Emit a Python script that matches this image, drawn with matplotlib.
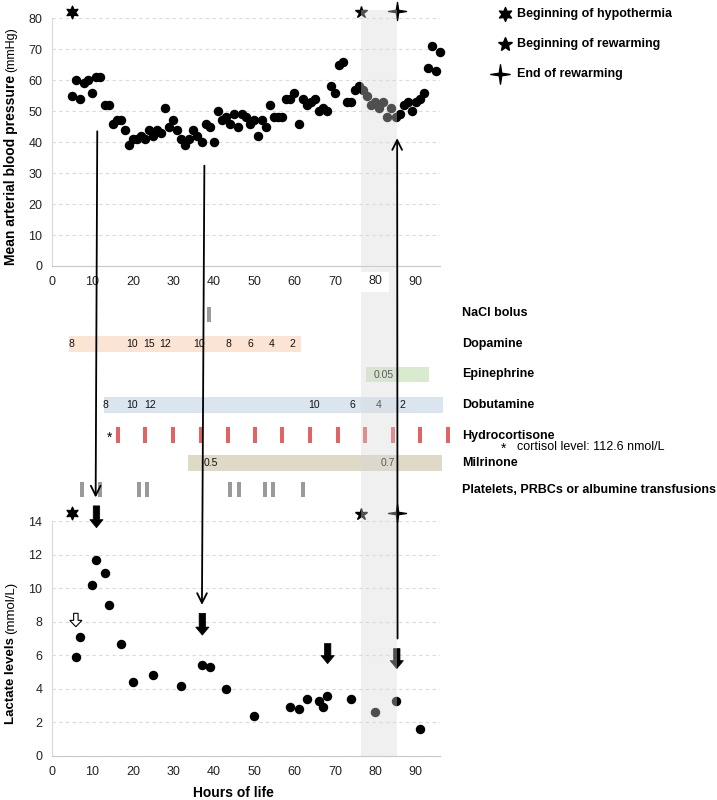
import numpy as np
import matplotlib
matplotlib.use("Agg")
import matplotlib.pyplot as plt
from matplotlib.patches import Rectangle, FancyArrow, ConnectionPatch
from matplotlib.lines import Line2D
from matplotlib.path import Path
from matplotlib.transforms import blended_transform_factory

plt.rcParams["font.family"] = ["Liberation Sans", "DejaVu Sans"]

# ---- mean arterial blood pressure (hourly) ----
map_hours = [5, 6, 7, 8, 9, 10, 11, 12, 13, 14, 15, 16, 17, 18, 19, 20, 21, 22, 23, 24,
             25, 26, 27, 28, 29, 30, 31, 32, 33, 34, 35, 36, 37, 38, 39, 40, 41, 42, 43, 44,
             45, 46, 47, 48, 49, 50, 51, 52, 53, 54, 55, 56, 57, 58, 59, 60, 61, 62, 63, 64,
             65, 66, 67, 68, 69, 70, 71, 72, 73, 74, 75, 76, 77, 78, 79, 80, 81, 82, 83, 84,
             85, 86, 87, 88, 89, 90, 91, 92, 93, 94, 95, 96]
map_values = [55, 60, 54, 59, 60, 56, 61, 61, 52, 52, 46, 47, 47, 44, 39, 41, 41, 42, 41, 44,
              42, 44, 43, 51, 45, 47, 44, 41, 39, 41, 44, 42, 40, 46, 45, 40, 50, 47, 48, 46,
              49, 45, 49, 48, 46, 47, 42, 47, 45, 52, 48, 48, 48, 54, 54, 56, 46, 54, 52, 53,
              54, 50, 51, 50, 58, 56, 65, 66, 53, 53, 57, 58, 57, 55, 52, 53, 51, 53, 48, 51,
              48, 49, 52, 53, 50, 53, 54, 56, 64, 71, 63, 69]

# ---- lactate ----
lac_hours = [6, 7, 10, 11, 13, 14, 17, 20, 25, 32, 37, 39, 43, 50, 59, 61, 63, 66, 67, 68,
             74, 80, 85, 91]
lac_values = [5.9, 7.1, 10.2, 11.7, 10.9, 9.0, 6.7, 4.4, 4.8, 4.2, 5.4, 5.3, 4.0, 2.4, 2.9,
              2.8, 3.4, 3.25, 2.9, 3.6, 3.4, 2.6, 3.3, 1.6]

# ---- events ----
hypothermia_start = 5
rewarming_start = 76.5
rewarming_end = 85.3

# ---- treatments ----
nacl_hours = [38.8]
dopamine_span = (4.2, 61.7)
dopamine_label_hours = [4.9, 19.8, 24.0, 28.1, 36.3, 43.6, 49.0, 54.3, 59.4]
dopamine_doses = ["8", "10", "15", "12", "10", "8", "6", "4", "2"]
epinephrine_span = (77.7, 93.2)
epinephrine_label_hours = [82.0]
epinephrine_doses = ["0.05"]
dobutamine_span = (12.8, 96.8)
dobutamine_label_hours = [13.3, 19.9, 24.2, 64.9, 74.4, 80.8, 86.7]
dobutamine_doses = ["8", "10", "12", "10", "6", "4", "2"]
hydrocortisone_hours = [16.3, 23.0, 29.9, 36.8, 43.5, 50.3, 57.0, 63.9, 70.7, 77.5, 84.3,
                        91.1, 97.9]
cortisol_hour = 14.2
milrinone_span = (33.7, 96.5)
milrinone_label_hours = [39.4, 83.0]
milrinone_doses = ["0.5", "0.7"]
transfusion_hours = [7.5, 11.9, 21.5, 23.5, 44.1, 46.2, 52.8, 54.7, 62.2]

# ---- annotations ----
# long arrows: (hour, MAP) in top panel <-> (hour, lactate) in bottom panel
down_links = [((11.2, 43.5), (10.8, 15.4)), ((37.7, 32.4), (37.1, 9.0))]
up_link = ((85.5, 7.0), (85.4, 41.3))
block_hours = [11.0, 37.2, 68.2, 85.3]
block_top = [14.9, 8.5, 6.7, 6.4]
block_bottom = [13.6, 7.2, 5.5, 5.2]
open_arrow = (5.9, 8.5, 7.7)

W, H = 717, 800


def fx(px):
    return px / W


def fy(py):
    return 1 - py / H


hexstar = Path.unit_regular_star(6, 0.5)
sparkle = Path([(0, 1), (0.13, 0.13), (1, 0), (0.13, -0.13), (0, -1), (-0.13, -0.13),
                (-1, 0), (-0.13, 0.13), (0, 1)],
               [Path.MOVETO] + [Path.LINETO] * 7 + [Path.CLOSEPOLY])

fig = plt.figure(figsize=(W / 100, H / 100), dpi=100)
ax_top = fig.add_axes([fx(52), fy(266), 388 / W, 247.7 / H])
ax_mid = fig.add_axes([fx(52), fy(500), 388 / W, 200 / H])
ax_bot = fig.add_axes([fx(52), fy(756), 388 / W, 235 / H])


def style(ax, ymax, step):
    ax.set_xlim(0, 96)
    ax.set_ylim(0, ymax)
    ax.set_xticks(range(0, 91, 10))
    ax.set_yticks(range(0, ymax + 1, step))
    ax.tick_params(length=0, labelsize=9, pad=7, colors="#222222")
    for s in ["top", "right"]:
        ax.spines[s].set_visible(False)
    ax.spines["left"].set_color("#d9d9d9")
    ax.spines["bottom"].set_color("#c8c8c8")
    ax.grid(axis="y", color="#dadada", ls=(0, (3, 3)), lw=0.8)
    ax.set_axisbelow(True)
    ax.patch.set_alpha(0)


style(ax_top, 80, 10)
style(ax_bot, 14, 2)

# top panel
ax_top.plot(map_hours, map_values, "o", color="black", ms=5.8, clip_on=False, zorder=3)
ax_top.plot(hypothermia_start, 82, marker=hexstar, ms=9, color="black", ls="none", clip_on=False)
ax_top.plot(rewarming_start, 82, marker="*", ms=9, color="black", ls="none", clip_on=False)
ax_top.plot(rewarming_end, 82.3, marker=sparkle, ms=13, color="black", ls="none", clip_on=False)

# bottom panel
ax_bot.plot(lac_hours, lac_values, "o", color="black", ms=5.8, clip_on=False, zorder=3)
ax_bot.plot(hypothermia_start, 14.45, marker=hexstar, ms=9, color="black", ls="none", clip_on=False)
ax_bot.plot(rewarming_start, 14.4, marker="*", ms=9, color="black", ls="none", clip_on=False)
ax_bot.plot(rewarming_end, 14.5, marker=sparkle, ms=13, color="black", ls="none", clip_on=False)

for h, y0, y1 in zip(block_hours, block_top, block_bottom):
    ax_bot.add_patch(FancyArrow(h, y0, 0, y1 - y0, width=1.6, head_width=3.3, head_length=0.48,
                                length_includes_head=True, fc="black", ec="black", lw=0.5,
                                clip_on=False, zorder=4))
h, y0, y1 = open_arrow
ax_bot.add_patch(FancyArrow(h, y0, 0, y1 - y0, width=1.1, head_width=3.0, head_length=0.38,
                            length_includes_head=True, fc="white", ec="black", lw=0.8,
                            clip_on=False, zorder=4))

# middle panel: treatments (y in pixel rows)
ax_mid.set_xlim(0, 96)
ax_mid.set_ylim(500, 300)
ax_mid.axis("off")
rows = {"NaCl bolus": 314.5, "Dopamine": 344, "Epinephrine": 374.7, "Dobutamine": 405,
        "Hydrocortisone": 435, "Milrinone": 463,
        "Platelets, PRBCs or albumine transfusions": 489.5}
label_y = {"NaCl bolus": 313.5, "Dopamine": 344, "Epinephrine": 374.5, "Dobutamine": 405.5,
           "Hydrocortisone": 436, "Milrinone": 463.5,
           "Platelets, PRBCs or albumine transfusions": 490}


def span_bar(span, row, color, hours, doses):
    ax_mid.barh(rows[row], span[1] - span[0], left=span[0], height=15.5, color=color,
                clip_on=False)
    for hh, d in zip(hours, doses):
        ax_mid.text(hh, rows[row], d, ha="center", va="center", fontsize=7.5, color="#111111")


def tick_bars(hours, row, color, height):
    ax_mid.bar(hours, height, width=1.0, bottom=rows[row] - height / 2, color=color,
               clip_on=False)


tick_bars(nacl_hours, "NaCl bolus", "#9a9a9a", 15)
span_bar(dopamine_span, "Dopamine", "#fce4d4", dopamine_label_hours, dopamine_doses)
span_bar(epinephrine_span, "Epinephrine", "#d8ebcf", epinephrine_label_hours, epinephrine_doses)
span_bar(dobutamine_span, "Dobutamine", "#dbe5f0", dobutamine_label_hours, dobutamine_doses)
tick_bars(hydrocortisone_hours, "Hydrocortisone", "#e06464", 16)
ax_mid.text(cortisol_hour, rows["Hydrocortisone"] + 3, "*", ha="center", va="center", fontsize=10)
span_bar(milrinone_span, "Milrinone", "#dfdac6", milrinone_label_hours, milrinone_doses)
tick_bars(transfusion_hours, "Platelets, PRBCs or albumine transfusions", "#9a9a9a", 14.5)

for name, yy in label_y.items():
    fig.text(fx(461.7), fy(yy), name, ha="left", va="center", fontsize=9, fontweight="bold")
fig.text(fx(503.5), fy(449), "*", ha="center", va="center", fontsize=10)
fig.text(fx(516.7), fy(446.7), "cortisol level: 112.6 nmol/L", ha="left", va="center", fontsize=9)

# shaded rewarming window spanning all panels
blend = blended_transform_factory(ax_top.transData, fig.transFigure)
fig.add_artist(Rectangle((rewarming_start, fy(756)), rewarming_end - rewarming_start,
                         (756 - 10) / H, transform=blend, fc="#d8d8d8", ec="none",
                         alpha=0.37, zorder=1))
fig.add_artist(Rectangle((rewarming_start, fy(291.7)), 83.3 - rewarming_start, 20 / H,
                         transform=blend, fc="white", ec="none", zorder=1.5))
fig.text(80, fy(281.5), "80", transform=blend, ha="center", va="center", fontsize=9,
         color="#222222", zorder=1.6)

# long linking arrows
for a, b in down_links:
    fig.add_artist(ConnectionPatch(xyA=a, coordsA=ax_top.transData, xyB=b,
                                   coordsB=ax_bot.transData,
                                   arrowstyle="->,head_length=0.5,head_width=0.25",
                                   mutation_scale=14, lw=1.3, color="black",
                                   shrinkA=0, shrinkB=0, zorder=3))
a, b = up_link
fig.add_artist(ConnectionPatch(xyA=a, coordsA=ax_bot.transData, xyB=b,
                               coordsB=ax_top.transData,
                               arrowstyle="->,head_length=0.5,head_width=0.25",
                               mutation_scale=14, lw=1.3, color="black",
                               shrinkA=0, shrinkB=0, zorder=3))

# legend
legend_items = [(hexstar, 10, 505, 14.3, "Beginning of hypothermia"),
                ("*", 10, 505, 44.3, "Beginning of rewarming"),
                (sparkle, 14, 500, 74.3, "End of rewarming")]
for m, ms, px, py, txt in legend_items:
    fig.add_artist(Line2D([fx(px)], [fy(py)], marker=m, ms=ms, color="black", ls="none",
                          transform=fig.transFigure))
    fig.text(fx(517.3), fy(py), txt, ha="left", va="center", fontsize=9, fontweight="bold")

# axis labels with bold + regular parts
renderer = fig.canvas.get_renderer()


def ylabel(py_start, bold, regular, bsize, rsize):
    t = fig.text(fx(14.5), fy(py_start), bold, rotation=90, rotation_mode="anchor",
                 ha="left", va="baseline", fontsize=bsize, fontweight="bold")
    ext = t.get_window_extent(renderer=renderer)
    fig.text(fx(14.5), fy(py_start - ext.height - 3), regular, rotation=90,
             rotation_mode="anchor", ha="left", va="baseline", fontsize=rsize)


ylabel(265, "Mean arterial blood pressure", "(mmHg)", 10, 9)
ylabel(724, "Lactate levels", "(mmol/L)", 9.5, 9.5)
fig.text(fx(233), fy(793), "Hours of life", ha="center", va="center", fontsize=10,
         fontweight="bold")

fig.savefig("out.png", dpi=100)
